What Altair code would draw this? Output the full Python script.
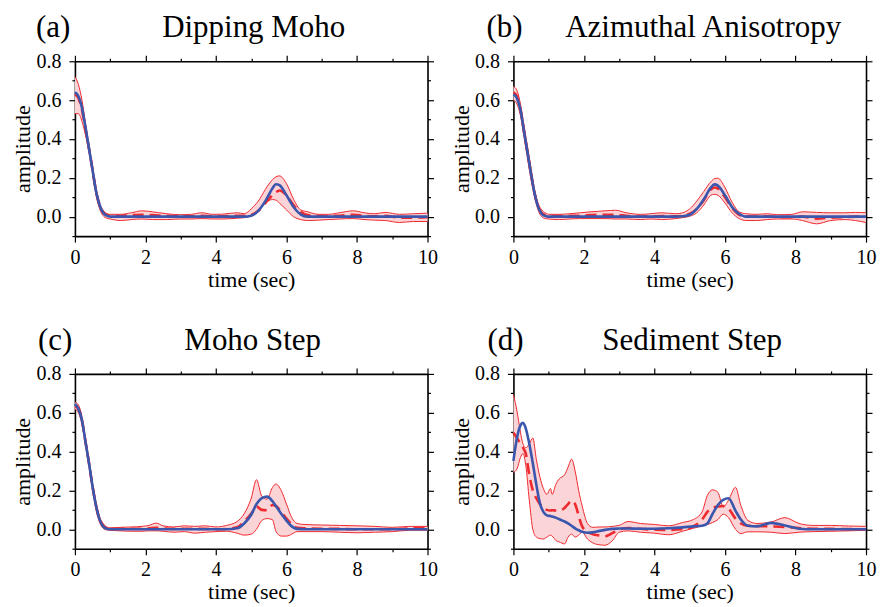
import altair as alt
import pandas as pd

# ---------------- data ----------------
PANEL_LABELS = ["(a)", "(b)", "(c)", "(d)"]
PANEL_TITLES = ["Dipping Moho", "Azimuthal Anisotropy", "Moho Step", "Sediment Step"]

X_MAJOR = [0, 2, 4, 6, 8, 10]
X_MINOR = [1, 3, 5, 7, 9]
Y_MAJOR = [0.0, 0.2, 0.4, 0.6, 0.8]
Y_MINOR = [-0.1, 0.1, 0.3, 0.5, 0.7]

# (a) Dipping Moho
A_T = [0, .1, .2, .3, .4, .5, .6, .7, .8, .9, 1.0, 1.3, 1.6, 1.9, 2.2, 2.6, 3.0, 3.3, 3.6, 3.9, 4.2, 4.6, 4.8,
       5.0, 5.2, 5.4, 5.6, 5.7, 5.8, 6.0, 6.2, 6.4, 6.6, 6.9, 7.2, 7.5, 7.9, 8.2, 8.5, 8.8, 9.2, 9.6, 10.0]
A_BLUE = [.64, .62, .56, .46, .35, .24, .13, .06, .02, .005, 0, 0, 0, 0, 0, 0, 0, 0, 0, 0, 0, 0, 0,
          .005, .03, .08, .145, .167, .162, .11, .05, .012, 0, 0, 0, 0, 0, 0, 0, 0, 0, 0, 0]
A_MEAN = [.63, .61, .55, .45, .35, .24, .13, .06, .025, .01, .005, .005, .008, .01, .008, .004, .002, .002, .004,
          .002, .002, .004, .004, .01, .03, .07, .11, .125, .135, .11, .06, .025, .008, .003, .002, .005, .01,
          .005, .002, .004, -.005, -.005, -.003]
A_UP = [.72, .68, .60, .48, .37, .26, .15, .07, .03, .015, .012, .012, .02, .03, .025, .015, .01, .012, .02,
        .012, .013, .02, .015, .04, .08, .14, .19, .205, .21, .17, .09, .035, .025, .012, .012, .02, .03,
        .02, .015, .022, .012, .015, .018]
A_LO = [.53, .53, .49, .42, .33, .22, .11, .04, .005, -.008, -.012, -.02, -.015, -.012, -.015, -.015, -.012,
        -.012, -.01, -.012, -.012, -.008, -.005, .005, .03, .07, .088, .085, .07, .035, 0, -.015, -.02,
        -.018, -.015, -.012, -.01, -.015, -.018, -.02, -.03, -.025, -.025]

# (b) Azimuthal Anisotropy
B_T = [0, .1, .2, .3, .4, .5, .6, .7, .8, .9, 1.0, 1.3, 1.6, 1.9, 2.2, 2.6, 2.9, 3.2, 3.6, 3.9, 4.2, 4.6, 4.8,
       5.0, 5.2, 5.4, 5.6, 5.7, 5.8, 6.0, 6.2, 6.4, 6.6, 6.9, 7.2, 7.5, 7.9, 8.2, 8.6, 9.0, 9.4, 9.7, 10.0]
B_BLUE = [.63, .61, .55, .44, .33, .22, .12, .05, .015, .003, 0, 0, 0, 0, 0, 0, 0, 0, 0, 0, 0, 0, .002,
          .01, .04, .09, .15, .166, .16, .11, .05, .015, 0, 0, 0, 0, 0, 0, 0, 0, 0, 0, 0]
B_MEAN = [.64, .62, .55, .44, .33, .22, .12, .05, .02, .008, .003, .003, .004, .005, .008, .01, .01, .004, .001,
          .002, .003, .002, .004, .015, .04, .085, .14, .15, .145, .10, .045, .01, .002, .001, .002, -.002,
          -.003, 0, -.01, -.005, -.002, 0, 0]
B_UP = [.67, .65, .58, .47, .36, .25, .14, .07, .035, .02, .012, .012, .015, .02, .025, .03, .033, .02, .012,
        .015, .02, .015, .02, .04, .08, .13, .18, .195, .198, .15, .075, .025, .015, .012, .015, .01, .012,
        .025, .022, .02, .02, .022, .02]
B_LO = [.60, .58, .52, .41, .30, .19, .10, .035, 0, -.01, -.012, -.015, -.012, -.01, -.01, -.01, -.012, -.012,
        -.015, -.012, -.015, -.01, -.005, .002, .02, .06, .11, .115, .11, .07, .02, -.01, -.02, -.02, -.015,
        -.012, -.012, -.02, -.037, -.02, -.015, -.02, -.03]

# (c) Moho Step
C_T = [0, .1, .2, .3, .4, .5, .6, .7, .8, .9, 1.0, 1.3, 1.6, 1.9, 2.1, 2.3, 2.5, 2.8, 3.1, 3.4, 3.7, 4.0, 4.3,
       4.6, 4.8, 5.0, 5.15, 5.3, 5.45, 5.6, 5.7, 5.85, 6.0, 6.15, 6.3, 6.5, 7.0, 7.5, 8.0, 8.5, 9.0, 9.5, 10.0]
C_BLUE = [.645, .62, .56, .45, .34, .22, .12, .05, .015, .003, 0, 0, 0, 0, 0, 0, 0, 0, 0, 0, 0, 0, 0,
          .005, .03, .075, .13, .16, .168, .145, .12, .08, .045, .015, .002, 0, 0, 0, 0, 0, 0, 0, 0]
C_MEAN = [.635, .62, .56, .45, .34, .22, .12, .05, .02, .005, .002, .002, .003, .003, .005, .008, .005, .002,
          .003, .002, .002, 0, .002, .01, .04, .08, .117, .10, .098, .125, .12, .09, .055, .025, .008, .005,
          .003, .002, 0, 0, 0, .005, .008]
C_UP = [.655, .64, .58, .47, .36, .24, .14, .065, .03, .012, .008, .01, .012, .015, .02, .032, .018, .012,
        .018, .015, .018, .012, .02, .04, .08, .16, .255, .17, .155, .215, .233, .20, .13, .06, .03, .025,
        .022, .02, .018, .015, .01, .015, .015]
C_LO = [.62, .60, .54, .43, .32, .20, .10, .035, .005, -.003, -.005, -.008, -.01, -.01, -.008, -.008, -.01,
        -.015, -.012, -.02, -.015, -.012, -.01, -.02, -.03, -.025, 0, .045, .055, .05, -.01, -.035, -.035,
        -.025, -.012, -.012, -.012, -.015, -.018, -.015, -.012, -.005, -.005]

# (d) Sediment Step
D_T = [0, .1, .2, .27, .35, .45, .55, .65, .75, .85, .95, 1.05, 1.1, 1.2, 1.3, 1.45, 1.55, 1.65, 1.75, 1.85,
       1.95, 2.1, 2.25, 2.45, 2.6, 2.8, 3.0, 3.25, 3.6, 4.0, 4.4, 4.8, 5.1, 5.35, 5.5, 5.65, 5.8, 5.95, 6.1,
       6.3, 6.45, 6.65, 6.9, 7.3, 7.7, 8.1, 8.5, 9.0, 9.5, 10.0]
D_BLUE = [.352, .47, .535, .548, .52, .44, .34, .23, .135, .09, .072, .068, .066, .06, .052, .04, .03, .018,
          .005, -.005, -.013, -.018, -.016, -.008, -.003, .002, .004, .004, .003, .003, .005, .01, .015, .018,
          .03, .08, .125, .152, .16, .095, .05, .018, .015, .033, .02, .003, 0, 0, 0, 0]
D_MEAN = [.497, .47, .44, .42, .39, .28, .20, .16, .13, .11, .10, .097, .098, .097, .097, .11, .13, .148, .13,
          .07, .015, -.012, -.025, -.032, -.036, -.02, 0, .007, .003, -.002, -.003, 0, .015, .05, .09, .112,
          .117, .12, .106, .055, .03, .018, .017, .015, .012, .006, .003, .002, .001, 0]
D_UP = [.693, .61, .50, .44, .42, .44, .47, .36, .27, .21, .18, .21, .18, .23, .26, .28, .32, .361, .30, .20,
        .12, .03, .01, .012, .012, .015, .02, .04, .03, .025, .018, .035, .05, .09, .174, .203, .19, .115,
        .15, .216, .123, .046, .03, .037, .06, .03, .02, .02, .017, .015]
D_LO = [.293, .31, .37, .39, .33, .15, 0, -.04, -.048, -.05, -.04, -.03, -.035, -.057, -.065, -.075, -.04,
        -.025, -.04, -.03, -.015, -.05, -.07, -.08, -.082, -.06, -.015, -.008, -.015, -.02, -.028, -.01, .005,
        .018, .025, .035, .05, .078, .06, 0, -.022, -.013, -.013, -.015, -.022, -.015, -.012, -.01, -.008,
        -.005]

SERIES = [
    (A_T, A_BLUE, A_MEAN, A_UP, A_LO),
    (B_T, B_BLUE, B_MEAN, B_UP, B_LO),
    (C_T, C_BLUE, C_MEAN, C_UP, C_LO),
    (D_T, D_BLUE, D_MEAN, D_UP, D_LO),
]

# ---------------- style ----------------
FONT = "Liberation Serif"
RED = "#ee2a2f"
PINK = "#fbd4d7"
BLUE = "#3a56ad"
W, H = 353, 175
LABEL_X = [-39, -27, -37, -26]
TITLE_X = [179, 190, 178, 179]


def axis(orient, values, major, labels=False, title=None, fmt=None, lpad=4, tpad=4):
    kw = dict(
        orient=orient, values=values, grid=False, labels=labels,
        ticks=True, tickSize=6 if major else 3, tickColor="black", tickWidth=1.2,
        domain=major, domainColor="black", domainWidth=1.6,
        labelFont=FONT, labelFontSize=20, labelColor="black", labelPadding=lpad,
        titleFont=FONT, titleFontSize=22, titleFontWeight="normal", titleColor="black",
        titlePadding=tpad,
        labelFlush=False, labelOverlap=False, title=title,
    )
    if fmt is not None:
        kw["format"] = fmt
    return alt.Axis(**kw)


def panel(i):
    t, blue, mean, up, lo = SERIES[i]
    df = pd.DataFrame({"t": t, "blue": blue, "mean": mean, "upper": up, "lower": lo})
    xs = alt.Scale(domain=[0, 10], nice=False, zero=False)
    ys = alt.Scale(domain=[-0.1, 0.8], nice=False, zero=False)
    base = alt.Chart(df)

    band = base.mark_area(color=PINK, opacity=1, interpolate="monotone").encode(
        x=alt.X("t:Q", scale=xs,
                axis=axis("bottom", X_MAJOR, True, labels=True, title="time (sec)", lpad=5, tpad=2)),
        y=alt.Y("lower:Q", scale=ys,
                axis=axis("left", Y_MAJOR, True, labels=True, title="amplitude", fmt=".1f",
                          lpad=8, tpad=1)),
        y2="upper:Q",
    )
    upper = base.mark_line(color=RED, strokeWidth=1, interpolate="monotone").encode(
        x=alt.X("t:Q", scale=xs, axis=axis("bottom", X_MINOR, False)),
        y=alt.Y("upper:Q", scale=ys, axis=axis("left", Y_MINOR, False)),
    )
    lower = base.mark_line(color=RED, strokeWidth=1, interpolate="monotone").encode(
        x=alt.X("t:Q", scale=xs, axis=axis("top", X_MAJOR, True)),
        y=alt.Y("lower:Q", scale=ys, axis=axis("right", Y_MAJOR, True)),
    )
    meanl = base.mark_line(color=RED, strokeWidth=2.6, strokeDash=[11, 6], interpolate="monotone").encode(
        x=alt.X("t:Q", scale=xs, axis=axis("top", X_MINOR, False)),
        y=alt.Y("mean:Q", scale=ys, axis=axis("right", Y_MINOR, False)),
    )
    bluel = base.mark_line(color=BLUE, strokeWidth=2.6, interpolate="monotone").encode(
        x=alt.X("t:Q", scale=xs, axis=None),
        y=alt.Y("blue:Q", scale=ys, axis=None),
    )
    head = pd.DataFrame({"label": [PANEL_LABELS[i]], "title": [PANEL_TITLES[i]]})
    lab = alt.Chart(head).mark_text(
        font=FONT, fontSize=31, align="left", baseline="alphabetic", color="black"
    ).encode(text="label:N", x=alt.value(LABEL_X[i]), y=alt.value(-24))
    ttl = alt.Chart(head).mark_text(
        font=FONT, fontSize=31, align="center", baseline="alphabetic", color="black"
    ).encode(text="title:N", x=alt.value(TITLE_X[i]), y=alt.value(-24))

    return alt.layer(band, upper, lower, meanl, bluel, lab, ttl).resolve_axis(
        x="independent", y="independent"
    ).properties(width=W, height=H)


chart = alt.concat(
    panel(0), panel(1), panel(2), panel(3), columns=2,
    spacing={"row": 138, "column": 86}, bounds="flush",
).properties(
    padding={"left": 3, "top": 3, "right": 0, "bottom": 0},
).configure_view(stroke=None).configure(background="white")

chart.save("out.html", embed_options={"renderer": "svg", "actions": False})
